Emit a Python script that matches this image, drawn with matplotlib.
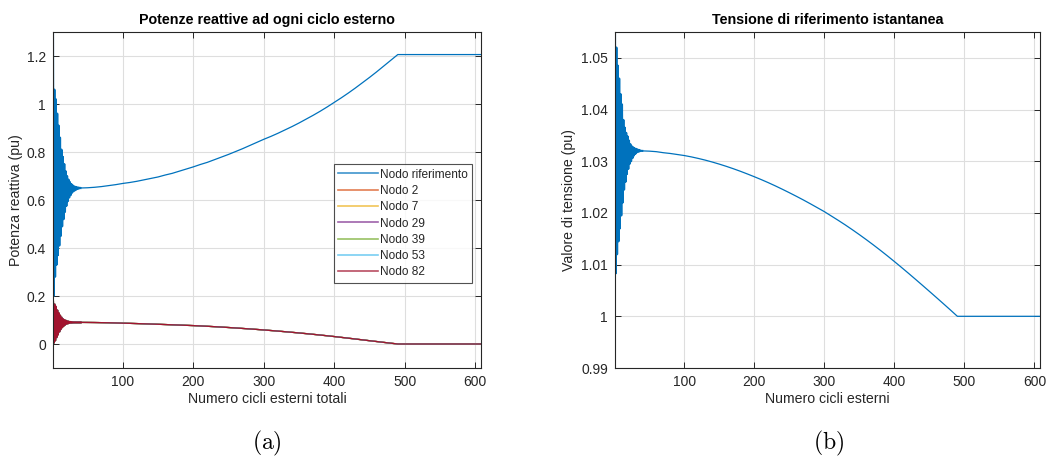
import matplotlib
matplotlib.use("Agg")
import matplotlib.pyplot as plt

plt.rcParams["font.family"] = ["Liberation Sans", "DejaVu Sans"]
plt.rcParams["mathtext.fontset"] = "cm"
plt.rcParams["path.simplify"] = False

# ---- data -------------------------------------------------------------
# cycle indices of the initial alternating transient (one value per cycle)
transient_cycles = list(range(1, 41))

q_ref_transient = [1.30, 0.20, 1.06, 0.28, 1.02, 0.33, 0.96, 0.37, 0.91, 0.41,
                   0.86, 0.45, 0.81, 0.49, 0.78, 0.52, 0.75, 0.55, 0.72, 0.575,
                   0.70, 0.595, 0.685, 0.61, 0.675, 0.62, 0.667, 0.63, 0.661, 0.636,
                   0.657, 0.640, 0.655, 0.643, 0.653, 0.646, 0.652, 0.648, 0.651, 0.650]

q_node_transient = [0.175, 0.005, 0.165, 0.015, 0.155, 0.028, 0.140, 0.040, 0.128, 0.052,
                    0.118, 0.062, 0.110, 0.070, 0.104, 0.076, 0.100, 0.080, 0.097, 0.084,
                    0.095, 0.086, 0.093, 0.088, 0.092, 0.089, 0.091, 0.0893, 0.0907, 0.0896,
                    0.0904, 0.0898, 0.0902, 0.0899, 0.0901, 0.0900, 0.0900, 0.0900, 0.0900, 0.0900]

v_ref_transient = [1.0550, 1.0083, 1.0520, 1.0120, 1.0485, 1.0145, 1.0460, 1.0170, 1.0430, 1.0195,
                   1.0410, 1.0220, 1.0380, 1.0245, 1.0365, 1.0260, 1.0355, 1.0275, 1.0348, 1.0285,
                   1.0340, 1.0295, 1.0333, 1.0300, 1.0329, 1.0306, 1.0327, 1.0311, 1.0325, 1.0314,
                   1.0324, 1.0317, 1.0323, 1.0318, 1.0322, 1.0319, 1.0321, 1.0320, 1.0320, 1.0320]

# slow evolution after the transient, every 10 cycles, then the saturated tail
slow_cycles = [50, 60, 70, 80, 90, 100, 110, 120, 130, 140,
               150, 160, 170, 180, 190, 200, 210, 220, 230, 240,
               250, 260, 270, 280, 290, 300, 310, 320, 330, 340,
               350, 360, 370, 380, 390, 400, 410, 420, 430, 440,
               450, 460, 470, 480, 490, 608]

q_ref_slow = [0.651, 0.653, 0.656, 0.660, 0.664, 0.669, 0.673, 0.678, 0.684, 0.690,
              0.696, 0.704, 0.711, 0.720, 0.729, 0.738, 0.748, 0.757, 0.768, 0.779,
              0.790, 0.802, 0.814, 0.827, 0.840, 0.853, 0.865, 0.878, 0.892, 0.906,
              0.921, 0.937, 0.953, 0.970, 0.988, 1.007, 1.026, 1.046, 1.067, 1.089,
              1.111, 1.134, 1.158, 1.182, 1.206, 1.206]

q_node_slow = [0.0898, 0.0895, 0.0890, 0.0885, 0.0877, 0.0868, 0.0860, 0.0851, 0.0842, 0.0832,
               0.0822, 0.0811, 0.0800, 0.0789, 0.0778, 0.0767, 0.0753, 0.0738, 0.0722, 0.0705,
               0.0687, 0.0668, 0.0648, 0.0628, 0.0607, 0.0585, 0.0562, 0.0538, 0.0513, 0.0487,
               0.0460, 0.0432, 0.0403, 0.0373, 0.0342, 0.0310, 0.0276, 0.0242, 0.0207, 0.0172,
               0.0137, 0.0103, 0.0068, 0.0034, 0.0000, 0.0000]

v_ref_slow = [1.03195, 1.03185, 1.03165, 1.03150, 1.03130, 1.03110, 1.03084, 1.03054, 1.03021, 1.02984,
              1.02944, 1.02901, 1.02855, 1.02806, 1.02754, 1.02700, 1.02644, 1.02585, 1.02523, 1.02458,
              1.02391, 1.02322, 1.02251, 1.02177, 1.02101, 1.02025, 1.01940, 1.01855, 1.01767, 1.01675,
              1.01580, 1.01482, 1.01381, 1.01277, 1.01170, 1.01060, 1.00948, 1.00834, 1.00718, 1.00601,
              1.00483, 1.00364, 1.00244, 1.00123, 1.00000, 1.00000]

node_names = ["Nodo riferimento", "Nodo 2", "Nodo 7", "Nodo 29",
              "Nodo 39", "Nodo 53", "Nodo 82"]
node_colors = ["#0072BD", "#D95319", "#EDB120", "#7E2F8E",
               "#77AC30", "#4DBEEE", "#A2142F"]

x_ticks = [100, 200, 300, 400, 500, 600]
q_ticks = [0, 0.2, 0.4, 0.6, 0.8, 1.0, 1.2]
q_tick_labels = ["0", "0.2", "0.4", "0.6", "0.8", "1", "1.2"]
v_ticks = [0.99, 1.0, 1.01, 1.02, 1.03, 1.04, 1.05]
v_tick_labels = ["0.99", "1", "1.01", "1.02", "1.03", "1.04", "1.05"]

# ---- styling helpers --------------------------------------------------
TXT = "#262626"
GRID = "#dedede"
LW = 0.9        # steady part of the traces
LW_DENSE = 1.5  # alternating start-up, dense enough to read as a solid band


def style_axes(ax):
    ax.grid(True, color=GRID, linewidth=0.8)
    ax.set_axisbelow(True)
    for s in ax.spines.values():
        s.set_color(TXT)
        s.set_linewidth(0.8)
    ax.tick_params(direction="in", top=True, right=True, length=4,
                   width=0.7, colors=TXT, labelsize=10, pad=5)


def plot_trace(ax, x_tr, y_tr, x_sl, y_sl, color, label=None):
    """Draw one trace: start-up oscillation followed by the slow evolution."""
    ax.plot(x_tr, y_tr, color=color, lw=LW_DENSE, solid_joinstyle="round")
    ax.plot([x_tr[-1]] + x_sl, [y_tr[-1]] + y_sl, color=color, lw=LW)
    # legend entry
    ax.plot([], [], color=color, lw=LW, label=label)


W, H = 1046, 473
fig = plt.figure(figsize=(W / 100, H / 100), dpi=100)

ax1 = fig.add_axes([53 / W, 1 - 368 / H, 428 / W, 336 / H])
ax2 = fig.add_axes([615 / W, 1 - 368 / H, 425 / W, 336 / H])

# ---- (a) reactive power ----------------------------------------------
plot_trace(ax1, transient_cycles, q_ref_transient, slow_cycles, q_ref_slow,
           node_colors[0], node_names[0])
for name, col in zip(node_names[1:], node_colors[1:]):
    plot_trace(ax1, transient_cycles, q_node_transient, slow_cycles, q_node_slow,
               col, name)

ax1.set_xlim(1, 608)
ax1.set_ylim(-0.1, 1.3)
ax1.set_xticks(x_ticks)
ax1.set_yticks(q_ticks)
ax1.set_yticklabels(q_tick_labels)
style_axes(ax1)
ax1.set_title("Potenze reattive ad ogni ciclo esterno", fontsize=10.3,
              fontweight="bold", color="black", pad=6)
ax1.set_xlabel("Numero cicli esterni totali", fontsize=10.2, color=TXT, labelpad=2)
ax1.set_ylabel("Potenza reattiva (pu)", fontsize=10.2, color=TXT, labelpad=3)

leg = ax1.legend(loc="center right", bbox_to_anchor=(0.979, 0.43), fontsize=8.6,
                 frameon=True, fancybox=False, handlelength=3.3,
                 handletextpad=0.2, labelspacing=0.36, borderpad=0.35,
                 borderaxespad=0.0)
leg.get_frame().set_edgecolor(TXT)
leg.get_frame().set_linewidth(0.8)
for t in leg.get_texts():
    t.set_color(TXT)
for h in leg.get_lines():
    h.set_linewidth(1.2)
    h.set_alpha(0.75)

# ---- (b) reference voltage -------------------------------------------
plot_trace(ax2, transient_cycles, v_ref_transient, slow_cycles, v_ref_slow,
           node_colors[0])
ax2.set_xlim(1, 608)
ax2.set_ylim(0.99, 1.055)
ax2.set_xticks(x_ticks)
ax2.set_yticks(v_ticks)
ax2.set_yticklabels(v_tick_labels)
style_axes(ax2)
ax2.set_title("Tensione di riferimento istantanea", fontsize=10.3,
              fontweight="bold", color="black", pad=6)
ax2.set_xlabel("Numero cicli esterni", fontsize=10.2, color=TXT, labelpad=2)
ax2.set_ylabel("Valore di tensione (pu)", fontsize=10.2, color=TXT, labelpad=4)

# ---- sub-captions -----------------------------------------------------
fig.text(267 / W, 1 - 443 / H, r"$\mathrm{(a)}$", fontsize=17,
         ha="center", va="center")
fig.text(829 / W, 1 - 443 / H, r"$\mathrm{(b)}$", fontsize=17,
         ha="center", va="center")

fig.savefig("out.png", dpi=100)
